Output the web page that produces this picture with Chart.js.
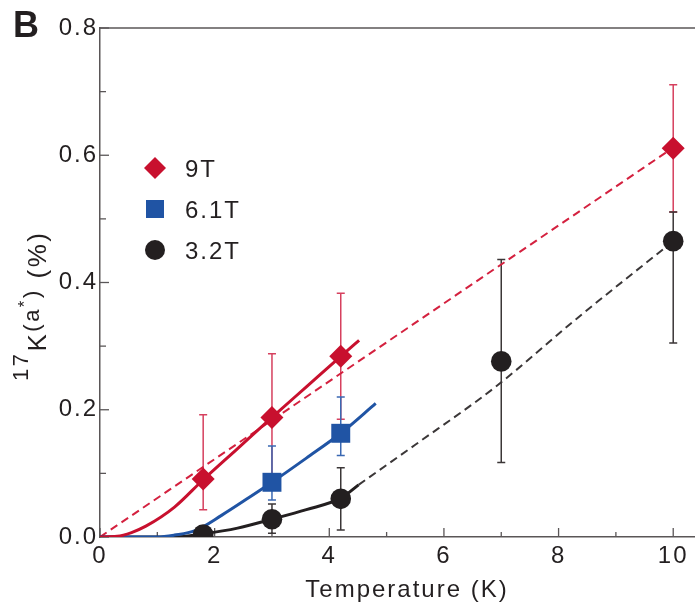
<!DOCTYPE html>
<html>
<head>
<meta charset="utf-8">
<script src="https://cdn.jsdelivr.net/npm/chart.js@4.4.1/dist/chart.umd.min.js"></script>
<style>
  html, body { margin: 0; padding: 0; background: #fff; }
  #wrap { width: 695px; height: 604px; }
</style>
</head>
<body>
<div id="wrap"><canvas id="chart" width="695" height="604"></canvas></div>
<script>
// axis ticks
const xTicks = [0, 2, 4, 6, 8, 10];
const xMinorTicks = [1, 3, 5, 7, 9];
const yTicks = [0, 0.2, 0.4, 0.6, 0.8];
const yMinorTicks = [0.1, 0.3, 0.5, 0.7];

// measured points, 9T
const temp9T = [1.8, 3, 4.2, 10];
const k9T = [0.091, 0.188, 0.284, 0.611];
const k9TErrHi = [0.192, 0.288, 0.383, 0.711];
const k9TErrLo = [0.043, 0.088, 0.185, 0.511];

// measured points, 6.1T
const temp61T = [3, 4.2];
const k61T = [0.086, 0.163];
const k61TErrHi = [0.143, 0.220];
const k61TErrLo = [0.058, 0.128];

// measured points, 3.2T
const temp32T = [1.8, 3, 4.2, 7, 10];
const k32T = [0.004, 0.028, 0.060, 0.276, 0.465];
const k32TErrHi = [null, 0.052, 0.109, 0.436, 0.511];
const k32TErrLo = [null, 0.006, 0.011, 0.117, 0.305];

// fit curves
const fit9T_T = [0, 0.3, 0.55, 0.8, 1.3, 1.8, 2.4, 3, 3.6, 4.2, 4.52];
const fit9T_K = [0, 0.001, 0.007, 0.017, 0.047, 0.09, 0.139, 0.188, 0.236, 0.284, 0.309];
const lin9T_T = [0, 10];
const lin9T_K = [0, 0.612];

const fit61T_T = [0, 1.0, 1.3, 1.66, 2.12, 2.6, 3, 3.6, 4.2, 4.81];
const fit61T_K = [0, 0, 0.003, 0.01, 0.034, 0.062, 0.086, 0.124, 0.163, 0.21];

const fit32T_T = [0, 1.3, 1.8, 2.4, 3, 3.6, 4.2, 4.51];
const fit32T_K = [0, 0, 0.005, 0.014, 0.028, 0.043, 0.061, 0.082];
const ext32T_T = [4.51, 5.5, 6.9, 8.3, 10];
const ext32T_K = [0.082, 0.145, 0.236, 0.342, 0.465];

const RED = '#c8102e';
const RED_ERR = '#d6405e';
const BLUE = '#2054a4';
const BLUE_ERR = '#3a68b2';
const BLACK = '#231f20';
const BLACK_ERR = '#3b3637';
const AXIS = '#5a5657';
const TEXT = '#231f20';
const FONT = "'Liberation Sans', Arial, sans-serif";

function toPoints(xs, ys) {
    return xs.map((x, i) => ({ x: x, y: ys[i] }));
}

const fitLine = (data, color, dashed) => ({
    data: data,
    showLine: true,
    borderColor: color,
    borderWidth: dashed ? 2 : 3,
    borderDash: dashed ? [8, 5] : [],
    pointRadius: 0,
    cubicInterpolationMode: 'monotone',
    fill: false
});

const markerSet = (data, color, style, radius, errHi, errLo, errColor) => ({
    data: data,
    showLine: false,
    pointStyle: style,
    pointRadius: radius,
    pointBackgroundColor: color,
    pointBorderColor: color,
    pointBorderWidth: 0,
    clip: 0,
    errHi: errHi,
    errLo: errLo,
    errColor: errColor
});

const overlayPlugin = {
    id: 'overlay',
    beforeDraw(chart) {
        chart.ctx.letterSpacing = '2px';
    },
    beforeDatasetsDraw(chart) {
        const { ctx, chartArea, scales } = chart;
        const x = scales.x, y = scales.y;
        ctx.save();
        // top frame line
        ctx.strokeStyle = AXIS;
        ctx.lineWidth = 1.5;
        ctx.beginPath();
        ctx.moveTo(chartArea.left, chartArea.top);
        ctx.lineTo(chartArea.right, chartArea.top);
        ctx.stroke();

        // inward tick marks
        ctx.lineWidth = 1.3;
        const tick = (vals, len, isX) => {
            vals.forEach(v => {
                ctx.beginPath();
                if (isX) {
                    const px = x.getPixelForValue(v);
                    ctx.moveTo(px, chartArea.bottom);
                    ctx.lineTo(px, chartArea.bottom - len);
                } else {
                    const py = y.getPixelForValue(v);
                    ctx.moveTo(chartArea.left, py);
                    ctx.lineTo(chartArea.left + len, py);
                }
                ctx.stroke();
            });
        };
        tick(xTicks, 9, true);
        tick(xMinorTicks, 5, true);
        tick(yTicks, 9, false);
        tick(yMinorTicks, 6, false);

        // error bars
        chart.data.datasets.forEach(ds => {
            if (!ds.errHi) return;
            ctx.strokeStyle = ds.errColor;
            ctx.lineWidth = 1.5;
            ds.data.forEach((p, i) => {
                if (ds.errHi[i] == null) return;
                const px = x.getPixelForValue(p.x);
                const top = y.getPixelForValue(ds.errHi[i]);
                const bot = y.getPixelForValue(ds.errLo[i]);
                ctx.beginPath();
                ctx.moveTo(px, top);
                ctx.lineTo(px, bot);
                ctx.moveTo(px - 4, top);
                ctx.lineTo(px + 4, top);
                ctx.moveTo(px - 4, bot);
                ctx.lineTo(px + 4, bot);
                ctx.stroke();
            });
        });
        ctx.restore();
    },
    afterDraw(chart) {
        const ctx = chart.ctx;
        ctx.save();
        ctx.fillStyle = TEXT;
        ctx.textBaseline = 'alphabetic';

        // panel label
        ctx.letterSpacing = '0px';
        ctx.font = 'bold 36px ' + FONT;
        ctx.textAlign = 'left';
        ctx.fillText('B', 13, 37);
        ctx.letterSpacing = '2px';

        // x axis title
        ctx.font = '24px ' + FONT;
        ctx.textAlign = 'center';
        ctx.fillText('Temperature (K)', 407, 597);

        // legend
        ctx.textAlign = 'left';
        const legend = [
            { label: '9T', color: RED, shape: 'diamond', y: 168 },
            { label: '6.1T', color: BLUE, shape: 'square', y: 209 },
            { label: '3.2T', color: BLACK, shape: 'circle', y: 250 }
        ];
        legend.forEach(item => {
            ctx.fillStyle = item.color;
            ctx.beginPath();
            const cx = 155, cy = item.y;
            if (item.shape === 'diamond') {
                ctx.moveTo(cx, cy - 11);
                ctx.lineTo(cx + 11, cy);
                ctx.lineTo(cx, cy + 11);
                ctx.lineTo(cx - 11, cy);
                ctx.closePath();
            } else if (item.shape === 'square') {
                ctx.rect(cx - 9, cy - 9, 18, 18);
            } else {
                ctx.arc(cx, cy, 10, 0, Math.PI * 2);
            }
            ctx.fill();
            ctx.fillStyle = TEXT;
            ctx.font = '24px ' + FONT;
            ctx.fillText(item.label, 185, item.y + 9);
        });

        // y axis title: 17K(a*) (%), rotated
        ctx.translate(46, 381);
        ctx.rotate(-Math.PI / 2);
        ctx.letterSpacing = '2.5px';
        let pos = 0;
        const part = (text, size, shift) => {
            ctx.font = size + 'px ' + FONT;
            ctx.fillText(text, pos, shift);
            pos += ctx.measureText(text).width;
        };
        part('17', 22, -18);
        part('K', 26, 0);
        part('(a', 22, -7);
        part('*', 17, -16);
        part(')', 22, -7);
        part(' (%)', 26, 0);
        ctx.restore();
    }
};

new Chart(document.getElementById('chart'), {
    type: 'scatter',
    data: {
        datasets: [
            markerSet(toPoints(temp9T, k9T), RED, 'rectRot', 11.5, k9TErrHi, k9TErrLo, RED_ERR),
            markerSet(toPoints(temp61T, k61T), BLUE, 'rect', 13.4, k61TErrHi, k61TErrLo, BLUE_ERR),
            markerSet(toPoints(temp32T, k32T), BLACK, 'circle', 10.3, k32TErrHi, k32TErrLo, BLACK_ERR),
            fitLine(toPoints(fit9T_T, fit9T_K), RED, false),
            fitLine(toPoints(fit61T_T, fit61T_K), BLUE, false),
            fitLine(toPoints(fit32T_T, fit32T_K), BLACK, false),
            fitLine(toPoints(lin9T_T, lin9T_K), '#d4213f', true),
            fitLine(toPoints(ext32T_T, ext32T_K), '#3b3738', true)
        ]
    },
    options: {
        responsive: false,
        animation: false,
        layout: { autoPadding: false, padding: { top: 28, right: 0, left: 0, bottom: 0 } },
        plugins: {
            legend: { display: false },
            tooltip: { enabled: false }
        },
        scales: {
            x: {
                type: 'linear',
                min: 0,
                max: 10.38,
                border: { display: true, color: AXIS, width: 1.5 },
                grid: { display: false, drawTicks: false },
                ticks: {
                    color: TEXT,
                    font: { family: FONT, size: 24 },
                    padding: 5,
                    maxRotation: 0,
                    callback: v => String(v)
                },
                afterBuildTicks: s => { s.ticks = xTicks.map(v => ({ value: v })); },
                afterFit: s => { s.height = 67; s.paddingLeft = 0; s.paddingRight = 0; }
            },
            y: {
                type: 'linear',
                min: 0,
                max: 0.8,
                border: { display: true, color: AXIS, width: 1.5 },
                grid: { display: false, drawTicks: false },
                ticks: {
                    color: TEXT,
                    font: { family: FONT, size: 24 },
                    padding: 2,
                    callback: v => v.toFixed(1)
                },
                afterBuildTicks: s => { s.ticks = yTicks.map(v => ({ value: v })); },
                afterFit: s => { s.width = 100; s.paddingTop = 0; s.paddingBottom = 0; }
            }
        }
    },
    plugins: [overlayPlugin]
});
</script>
</body>
</html>
